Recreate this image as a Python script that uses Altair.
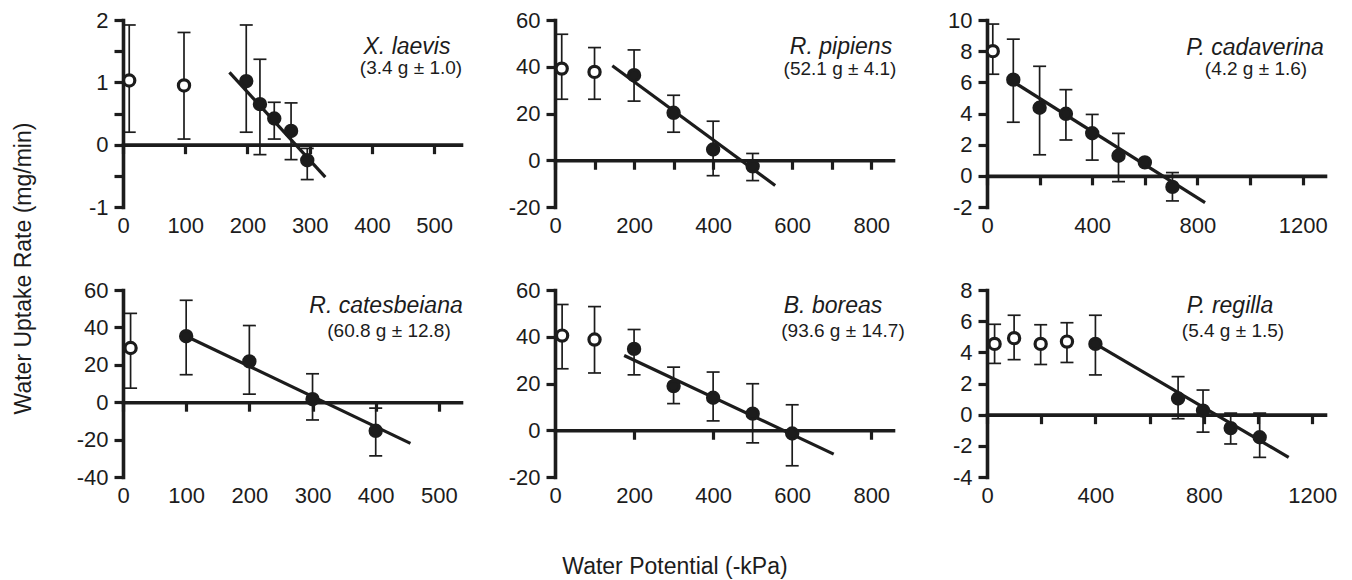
import altair as alt
import pandas as pd

FONT = "Liberation Sans"
INK = "#1c1c1c"
W, H = 338, 187

# ---------------- data ----------------
species = ["X. laevis", "R. pipiens", "P. cadaverina",
           "R. catesbeiana", "B. boreas", "P. regilla"]
masses = ["(3.4 g ± 1.0)", "(52.1 g ± 4.1)", "(4.2 g ± 1.6)",
          "(60.8 g ± 12.8)", "(93.6 g ± 14.7)", "(5.4 g ± 1.5)"]

# X. laevis
xl_x = [10, 98, 198, 220, 243, 270, 296]
xl_y = [1.03, 0.95, 1.02, 0.65, 0.42, 0.22, -0.25]
xl_lo = [0.20, 0.09, 0.20, -0.16, 0.09, -0.24, -0.56]
xl_hi = [1.92, 1.80, 1.92, 1.37, 0.68, 0.67, -0.06]
xl_kind = ["open", "open", "filled", "filled", "filled", "filled", "filled"]
xl_fit_x = [171, 325]
xl_fit_y = [1.16, -0.52]

# R. pipiens
rp_x = [17, 100, 200, 300, 400, 500]
rp_y = [39.2, 37.8, 36.4, 20.3, 4.6, -2.6]
rp_lo = [26.1, 26.1, 25.3, 12.0, -6.6, -8.7]
rp_hi = [53.9, 48.2, 47.2, 27.8, 16.7, 2.9]
rp_kind = ["open", "open", "filled", "filled", "filled", "filled"]
rp_fit_x = [145, 557]
rp_fit_y = [40.4, -10.8]

# P. cadaverina
pc_x = [22, 100, 200, 300, 400, 500, 600, 705]
pc_y = [8.0, 6.17, 4.37, 3.98, 2.73, 1.29, 0.86, -0.71]
pc_lo = [6.52, 3.44, 1.35, 2.30, 1.01, -0.37, 0.86, -1.61]
pc_hi = [9.74, 8.77, 7.03, 5.53, 3.94, 2.73, 0.86, 0.21]
pc_kind = ["open", "filled", "filled", "filled", "filled", "filled", "filled", "filled"]
pc_fit_x = [91, 829]
pc_fit_y = [6.13, -1.72]

# R. catesbeiana
rc_x = [12, 100, 200, 300, 400]
rc_y = [29.0, 35.3, 21.8, 1.6, -15.3]
rc_lo = [7.5, 14.7, 4.3, -9.5, -28.7]
rc_hi = [47.5, 54.5, 41.0, 15.2, -3.2]
rc_kind = ["open", "filled", "filled", "filled", "filled"]
rc_fit_x = [100, 455]
rc_fit_y = [35.3, -22.0]

# B. boreas
bb_x = [18, 100, 200, 300, 400, 500, 600]
bb_y = [40.5, 38.8, 34.8, 18.9, 13.9, 7.1, -1.4]
bb_lo = [26.3, 24.5, 23.7, 11.4, 4.0, -5.4, -15.2]
bb_hi = [53.8, 52.9, 43.1, 27.0, 24.9, 19.9, 10.9]
bb_kind = ["open", "open", "filled", "filled", "filled", "filled", "filled"]
bb_fit_x = [175, 705]
bb_fit_y = [32.0, -10.2]

# P. regilla
pr_x = [28, 100, 198, 295, 400, 705, 797, 899, 1006]
pr_y = [4.54, 4.91, 4.54, 4.69, 4.54, 1.04, 0.26, -0.86, -1.45]
pr_lo = [3.29, 3.53, 3.22, 3.35, 2.55, -0.26, -1.12, -1.88, -2.74]
pr_hi = [5.80, 6.38, 5.77, 5.90, 6.38, 2.44, 1.58, 0.10, 0.10]
pr_kind = ["open", "open", "open", "open", "filled", "filled", "filled", "filled", "filled"]
pr_fit_x = [400, 1113]
pr_fit_y = [4.54, -2.74]

# axes: domains, tick values and labelled values
x_domains = [[0, 543], [0, 855], [0, 1285], [0, 535], [0, 855], [0, 1247]]
y_domains = [[-1, 2], [-20, 60], [-2, 10], [-40, 60], [-20, 60], [-4, 8]]
x_ticks = [[0, 100, 200, 300, 400, 500],
           [0, 100, 200, 300, 400, 500, 600, 700, 800],
           [0, 200, 400, 600, 800, 1000, 1200],
           [0, 100, 200, 300, 400, 500],
           [0, 200, 400, 600, 800],
           [0, 200, 400, 600, 800, 1000, 1200]]
x_labels = [[0, 100, 200, 300, 400, 500],
            [0, 200, 400, 600, 800],
            [0, 400, 800, 1200],
            [0, 100, 200, 300, 400, 500],
            [0, 200, 400, 600, 800],
            [0, 400, 800, 1200]]
y_ticks = [[-1, -0.5, 0, 0.5, 1, 1.5, 2],
           [-20, 0, 20, 40, 60],
           [-2, 0, 2, 4, 6, 8, 10],
           [-40, -20, 0, 20, 40, 60],
           [-20, 0, 20, 40, 60],
           [-4, -2, 0, 2, 4, 6, 8]]
y_labels = [[-1, 0, 1, 2],
            [-20, 0, 20, 40, 60],
            [-2, 0, 2, 4, 6, 8, 10],
            [-40, -20, 0, 20, 40, 60],
            [-20, 0, 20, 40, 60],
            [-4, -2, 0, 2, 4, 6, 8]]

# ---------------- styling (label placement inside each panel, px) ----------------
label_pos = [(284, 34, 288, 54), (286, 34, 285, 55), (268, 35, 269, 55),
             (263, 23, 266, 47), (278, 23, 288, 47), (243, 23, 246, 47)]

series = [
    (xl_x, xl_y, xl_lo, xl_hi, xl_kind, xl_fit_x, xl_fit_y),
    (rp_x, rp_y, rp_lo, rp_hi, rp_kind, rp_fit_x, rp_fit_y),
    (pc_x, pc_y, pc_lo, pc_hi, pc_kind, pc_fit_x, pc_fit_y),
    (rc_x, rc_y, rc_lo, rc_hi, rc_kind, rc_fit_x, rc_fit_y),
    (bb_x, bb_y, bb_lo, bb_hi, bb_kind, bb_fit_x, bb_fit_y),
    (pr_x, pr_y, pr_lo, pr_hi, pr_kind, pr_fit_x, pr_fit_y),
]


def make_panel(i):
    x, y, lo, hi, kind, fx, fy = series[i]
    df = pd.DataFrame({"x": x, "y": y, "lo": lo, "hi": hi, "kind": kind})
    fit = pd.DataFrame({"x": fx, "y": fy})
    ydom = y_domains[i]
    zero_px = H * (0 - ydom[0]) / (ydom[1] - ydom[0])

    xs = alt.Scale(domain=x_domains[i], nice=False, zero=False)
    ys = alt.Scale(domain=ydom, nice=False, zero=False)
    xax = alt.Axis(values=x_ticks[i],
                   labelExpr=f"indexof({x_labels[i]}, datum.value) >= 0 ? '' + datum.value : ''",
                   offset=-zero_px, title=None, grid=False,
                   domainWidth=3.6, domainColor=INK, domainCap="square",
                   tickSize=9, tickWidth=3.2, tickColor=INK,
                   labelFontSize=22, labelFont=FONT, labelColor=INK,
                   labelPadding=zero_px + 8 - 9, labelFlush=False,
                   labelOverlap=False, labelBound=False)
    yax = alt.Axis(values=y_ticks[i],
                   labelExpr=f"indexof({y_labels[i]}, datum.value) >= 0 ? '' + datum.value : ''",
                   title=None, grid=False,
                   domainWidth=3.6, domainColor=INK, domainCap="square",
                   tickSize=9, tickWidth=3.2, tickColor=INK,
                   labelFontSize=22, labelFont=FONT, labelColor=INK,
                   labelPadding=6, labelFlush=False, labelOverlap=False)

    X = alt.X("x:Q", scale=xs, axis=xax)
    base = alt.Chart(df)
    bars = base.mark_rule(color=INK, strokeWidth=1.7).encode(
        x=X, y=alt.Y("lo:Q", scale=ys, axis=yax), y2="hi:Q")
    cap_lo = base.mark_tick(orient="horizontal", size=13, thickness=1.7, color=INK, opacity=1).encode(
        x=X, y=alt.Y("lo:Q", scale=ys, axis=yax))
    cap_hi = base.mark_tick(orient="horizontal", size=13, thickness=1.7, color=INK, opacity=1).encode(
        x=X, y=alt.Y("hi:Q", scale=ys, axis=yax))
    line = alt.Chart(fit).mark_line(color=INK, strokeWidth=3.2).encode(
        x=X, y=alt.Y("y:Q", scale=ys, axis=yax))
    pts = base.mark_point(shape="circle", filled=True, size=125, stroke=INK,
                          strokeWidth=3.2, opacity=1, fillOpacity=1).encode(
        x=X, y=alt.Y("y:Q", scale=ys, axis=yax),
        fill=alt.Fill("kind:N", scale=alt.Scale(domain=["open", "filled"], range=["white", INK]),
                      legend=None))

    tx, ty, sx, sy = label_pos[i]
    lab = pd.DataFrame({"name": [species[i]], "mass": [masses[i]]})
    t1 = alt.Chart(lab).mark_text(font=FONT, fontSize=23, fontStyle="italic", color=INK,
                                  align="center", baseline="alphabetic").encode(
        x=alt.value(tx), y=alt.value(ty), text="name:N")
    t2 = alt.Chart(lab).mark_text(font=FONT, fontSize=19, color=INK,
                                  align="center", baseline="alphabetic").encode(
        x=alt.value(sx), y=alt.value(sy), text="mass:N")

    return alt.layer(bars, cap_lo, cap_hi, line, pts, t1, t2).properties(width=W, height=H)


panels = [make_panel(i) for i in range(6)]

grid = alt.concat(*panels, columns=3, spacing={"row": 83, "column": 94}, bounds="flush",
                  title=alt.TitleParams("Water Uptake Rate (mg/min)", orient="left", anchor="middle",
                                        fontSize=23, font=FONT, fontWeight="normal", color=INK,
                                        offset=40, dx=-11))

chart = alt.vconcat(grid, title=alt.TitleParams("Water Potential (-kPa)", orient="bottom",
                                                anchor="middle", fontSize=23, font=FONT,
                                                fontWeight="normal", color=INK, offset=50)
                    ).properties(padding={"left": 5, "top": 1, "right": 5, "bottom": 0}
                    ).configure_view(stroke=None)

chart.save("out.html", embed_options={"renderer": "svg", "actions": False})
